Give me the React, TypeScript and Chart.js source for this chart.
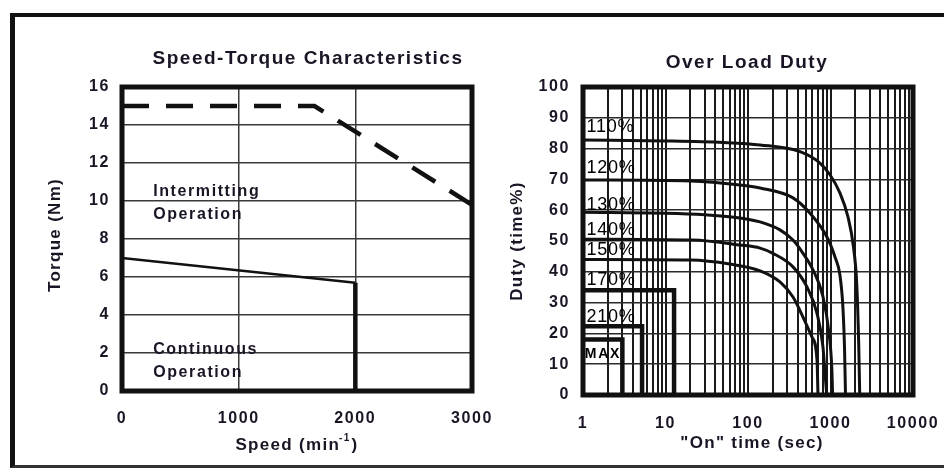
import React, { useEffect, useRef } from "react";
import { Chart, registerables } from "chart.js";

Chart.register(...registerables);

// ---------- Left chart data: Speed-Torque ----------
const LEFT_TITLE = "Speed-Torque Characteristics";
const SPEED_MIN = 0;
const SPEED_MAX = 3000;
const SPEED_STEP = 1000;
const TORQUE_MIN = 0;
const TORQUE_MAX = 16;
const TORQUE_STEP = 2;

const INT_SPEED = [0, 1650, 3000];
const INT_TORQUE = [15, 15, 9.8];
const CONT_SPEED = [0, 2000];
const CONT_TORQUE = [7, 5.7];
const LIMIT_SPEED = [2000, 2000];
const LIMIT_TORQUE = [5.7, 0];

const ZONE_TEXT = ["Intermitting", "Operation", "Continuous", "Operation"];
const ZONE_X = [267, 267, 267, 267];
const ZONE_Y = [10.47, 9.26, 2.16, 0.95];

// ---------- Right chart data: Over Load Duty ----------
const RIGHT_TITLE = "Over Load Duty";
const TIME_LABELS = [1, 10, 100, 1000, 10000];
const DUTY_MIN = 0;
const DUTY_MAX = 100;
const DUTY_STEP = 10;

const T110 = [1, 10, 50, 140, 427, 745, 985, 1300, 1630, 1900, 2080, 2200, 2260];
const D110 = [82.8, 82.5, 82, 81.2, 79, 75.3, 71.5, 65.6, 57.8, 48, 36, 16, 0];
const T120 = [1, 20, 80, 140, 351, 565, 906, 1134, 1300, 1410, 1480, 1520];
const D120 = [69.8, 69.5, 68.2, 67.2, 64, 59, 51.3, 44.8, 39, 29, 15, 0];
const T130 = [1, 10, 30, 80, 140, 244, 351, 464, 614, 810, 960, 1040, 1060];
const D130 = [59.3, 59, 58.5, 57.5, 56.2, 53.6, 50.3, 46, 40.6, 32, 20, 8, 0];
const T140 = [1, 21, 80, 140, 200, 351, 520, 685, 810, 870, 900];
const D140 = [50.6, 50.3, 48.7, 47.7, 46, 41.6, 35, 26.6, 15.6, 5, 0];
const T150 = [1, 20, 60, 140, 244, 351, 464, 597, 686, 705];
const D150 = [44, 43.8, 42.5, 40.3, 36.7, 31.8, 25.3, 18.8, 11.4, 0];
const T170 = [1, 12.7, 12.7];
const D170 = [34, 34, 0];
const T210 = [1, 5.2, 5.2];
const D210 = [22.3, 22.3, 0];
const TMAX = [1, 3.0, 3.0];
const DMAX = [18, 18, 0];

const CURVE_LABELS = ["110%", "120%", "130%", "140%", "150%", "170%", "210%", "MAX"];
const CURVE_LABEL_T = [1.1, 1.1, 1.1, 1.1, 1.1, 1.1, 1.1, 1.05];
const CURVE_LABEL_D = [87, 73.7, 61.8, 53.7, 47.1, 37.4, 25.3, 13.3];

const FONT = '"Liberation Sans", Arial, Helvetica, sans-serif';
const INK = "#1b1424";
const LINE = "#111111";

function pts(xs: number[], ys: number[]) {
  return xs.map((x, i) => ({ x, y: ys[i] }));
}

function logGrid(): number[] {
  const out: number[] = [];
  for (let e = 0; e < 4; e++) {
    for (let s = 1; s < 10; s++) out.push(s * Math.pow(10, e));
  }
  out.push(10000);
  return out;
}

function spacing(ctx: CanvasRenderingContext2D, px: number) {
  (ctx as any).letterSpacing = px + "px";
}

const leftDecor = {
  id: "leftDecor",
  beforeDraw(chart: any) {
    spacing(chart.ctx, 1.6);
  },
  afterDraw(chart: any) {
    const { ctx, chartArea: a, scales } = chart;
    ctx.save();
    ctx.lineWidth = 5;
    ctx.strokeStyle = LINE;
    ctx.strokeRect(a.left, a.top, a.right - a.left, a.bottom - a.top);

    ctx.fillStyle = INK;
    ctx.textBaseline = "middle";
    // title
    spacing(ctx, 1.5);
    ctx.font = `bold 19px ${FONT}`;
    ctx.textAlign = "center";
    ctx.fillText(LEFT_TITLE, (a.left + a.right) / 2 + 11, a.top - 28);

    // zone labels
    ctx.font = `bold 16px ${FONT}`;
    ctx.textAlign = "left";
    spacing(ctx, 1.6);
    for (let i = 0; i < ZONE_TEXT.length; i++) {
      ctx.fillText(
        ZONE_TEXT[i],
        scales.x.getPixelForValue(ZONE_X[i]),
        scales.y.getPixelForValue(ZONE_Y[i])
      );
    }

    // x axis title with superscript
    spacing(ctx, 1.3);
    const p1 = "Speed (min";
    const sup = "-1";
    const p2 = ")";
    ctx.font = `bold 17px ${FONT}`;
    const w1 = ctx.measureText(p1).width;
    const w2 = ctx.measureText(p2).width;
    ctx.font = `bold 10px ${FONT}`;
    const ws = ctx.measureText(sup).width;
    const total = w1 + ws + w2;
    const cx = (a.left + a.right) / 2;
    const ty = a.bottom + 54;
    let x = cx - total / 2;
    ctx.textAlign = "left";
    ctx.font = `bold 17px ${FONT}`;
    ctx.fillText(p1, x, ty);
    x += w1;
    ctx.font = `bold 10px ${FONT}`;
    ctx.fillText(sup, x - 1, ty - 7);
    x += ws;
    ctx.font = `bold 17px ${FONT}`;
    ctx.fillText(p2, x, ty);

    // y axis title
    ctx.translate(a.left - 67, (a.top + a.bottom) / 2 - 4);
    ctx.rotate(-Math.PI / 2);
    ctx.textAlign = "center";
    ctx.font = `bold 17px ${FONT}`;
    ctx.fillText("Torque (Nm)", 0, 0);
    ctx.restore();
  },
};

const rightDecor = {
  id: "rightDecor",
  beforeDraw(chart: any) {
    spacing(chart.ctx, 1.6);
  },
  afterDraw(chart: any) {
    const { ctx, chartArea: a, scales } = chart;
    ctx.save();
    ctx.lineWidth = 5;
    ctx.strokeStyle = LINE;
    ctx.strokeRect(a.left, a.top, a.right - a.left, a.bottom - a.top);

    ctx.fillStyle = INK;
    ctx.textBaseline = "middle";
    spacing(ctx, 1.5);
    ctx.font = `bold 19px ${FONT}`;
    ctx.textAlign = "center";
    ctx.fillText(RIGHT_TITLE, (a.left + a.right) / 2 - 1, a.top - 24);

    spacing(ctx, 1.3);
    ctx.font = `bold 17px ${FONT}`;
    ctx.fillText('"On" time (sec)', (a.left + a.right) / 2 + 4, a.bottom + 48);

    // curve labels
    ctx.textAlign = "left";
    ctx.fillStyle = "#000";
    for (let i = 0; i < CURVE_LABELS.length; i++) {
      const isMax = CURVE_LABELS[i] === "MAX";
      ctx.font = isMax ? `bold 14px ${FONT}` : `18px ${FONT}`;
      spacing(ctx, isMax ? 1.8 : 0.8);
      ctx.fillText(
        CURVE_LABELS[i],
        scales.x.getPixelForValue(CURVE_LABEL_T[i]),
        scales.y.getPixelForValue(CURVE_LABEL_D[i])
      );
    }

    ctx.fillStyle = INK;
    spacing(ctx, 1.3);
    ctx.translate(a.left - 66, (a.top + a.bottom) / 2);
    ctx.rotate(-Math.PI / 2);
    ctx.textAlign = "center";
    ctx.font = `bold 17px ${FONT}`;
    ctx.fillText("Duty (time%)", 0, 0);
    ctx.restore();
  },
};

function fixXPadding(s: any, h: number) {
  s.height = h;
  s.paddingLeft = 0;
  s.paddingRight = 0;
}

function leftConfig(): any {
  const tickFont = { family: FONT, size: 16, weight: "bold" as const };
  return {
    type: "line",
    data: {
      datasets: [
        {
          data: pts(INT_SPEED, INT_TORQUE),
          borderColor: LINE,
          borderWidth: 4.5,
          borderDash: [27, 17],
          pointRadius: 0,
          tension: 0,
          fill: false,
        },
        {
          data: pts(CONT_SPEED, CONT_TORQUE),
          borderColor: LINE,
          borderWidth: 2.5,
          pointRadius: 0,
          tension: 0,
          fill: false,
        },
        {
          data: pts(LIMIT_SPEED, LIMIT_TORQUE),
          borderColor: LINE,
          borderWidth: 4.5,
          pointRadius: 0,
          tension: 0,
          fill: false,
        },
      ],
    },
    options: {
      animation: false,
      responsive: false,
      maintainAspectRatio: false,
      events: [],
      layout: { padding: { left: 0, top: 87, right: 28, bottom: 0 } },
      plugins: { legend: { display: false }, tooltip: { enabled: false }, title: { display: false } },
      scales: {
        x: {
          type: "linear",
          min: SPEED_MIN,
          max: SPEED_MAX,
          border: { display: false },
          grid: { color: "#3a3a3a", lineWidth: 1.5, drawTicks: false },
          ticks: {
            stepSize: SPEED_STEP,
            color: INK,
            font: tickFont,
            padding: 18,
            maxRotation: 0,
            autoSkip: false,
            callback: (v: any) => String(v),
          },
          afterFit(s: any) {
            fixXPadding(s, 79);
          },
        },
        y: {
          type: "linear",
          min: TORQUE_MIN,
          max: TORQUE_MAX,
          border: { display: false },
          grid: { color: "#3a3a3a", lineWidth: 1.5, drawTicks: false },
          ticks: { stepSize: TORQUE_STEP, color: INK, font: tickFont, padding: 12 },
          afterFit(s: any) {
            s.width = 122;
          },
        },
      },
    },
    plugins: [leftDecor],
  };
}

function rightConfig(): any {
  const tickFont = { family: FONT, size: 16, weight: "bold" as const };
  const curve = (t: number[], d: number[]) => ({
    data: pts(t, d),
    borderColor: LINE,
    borderWidth: 3,
    pointRadius: 0,
    cubicInterpolationMode: "monotone",
    fill: false,
  });
  const step = (t: number[], d: number[]) => ({
    data: pts(t, d),
    borderColor: LINE,
    borderWidth: 4.5,
    pointRadius: 0,
    tension: 0,
    fill: false,
  });
  const grid = logGrid();
  return {
    type: "line",
    data: {
      datasets: [
        curve(T110, D110),
        curve(T120, D120),
        curve(T130, D130),
        curve(T140, D140),
        curve(T150, D150),
        step(T170, D170),
        step(T210, D210),
        step(TMAX, DMAX),
      ],
    },
    options: {
      animation: false,
      responsive: false,
      maintainAspectRatio: false,
      events: [],
      layout: { padding: { left: 0, top: 87, right: 31, bottom: 0 } },
      plugins: { legend: { display: false }, tooltip: { enabled: false }, title: { display: false } },
      scales: {
        x: {
          type: "logarithmic",
          min: 1,
          max: 10000,
          border: { display: false },
          grid: { color: "#1a1a1a", lineWidth: 2, drawTicks: false },
          afterBuildTicks(s: any) {
            s.ticks = grid.map((v) => ({ value: v }));
          },
          ticks: {
            color: INK,
            font: tickFont,
            padding: 19,
            maxRotation: 0,
            minRotation: 0,
            autoSkip: false,
            callback: (v: any) => (TIME_LABELS.includes(Number(v)) ? String(v) : ""),
          },
          afterFit(s: any) {
            fixXPadding(s, 75);
          },
        },
        y: {
          type: "linear",
          min: DUTY_MIN,
          max: DUTY_MAX,
          border: { display: false },
          grid: { color: "#2a2a2a", lineWidth: 1.6, drawTicks: false },
          ticks: { stepSize: DUTY_STEP, color: INK, font: tickFont, padding: 13 },
          afterFit(s: any) {
            s.width = 103;
          },
        },
      },
    },
    plugins: [rightDecor],
  };
}

export default function App() {
  const leftRef = useRef<HTMLCanvasElement>(null);
  const rightRef = useRef<HTMLCanvasElement>(null);

  useEffect(() => {
    const c1 = new Chart(leftRef.current as HTMLCanvasElement, leftConfig());
    const c2 = new Chart(rightRef.current as HTMLCanvasElement, rightConfig());
    return () => {
      c1.destroy();
      c2.destroy();
    };
  }, []);

  return (
    <div
      style={{
        position: "fixed",
        left: 0,
        top: 0,
        width: 944,
        height: 470,
        background: "#ffffff",
        overflow: "hidden",
      }}
    >
      <div
        style={{
          position: "absolute",
          left: 10,
          top: 13,
          width: 960,
          height: 455,
          boxSizing: "border-box",
          borderLeft: "5px solid #111",
          borderTop: "4px solid #111",
          borderBottom: "3px solid #333",
        }}
      />
      <canvas
        ref={leftRef}
        width={500}
        height={470}
        style={{ position: "absolute", left: 0, top: 0, width: 500, height: 470 }}
      />
      <canvas
        ref={rightRef}
        width={464}
        height={470}
        style={{ position: "absolute", left: 480, top: 0, width: 464, height: 470 }}
      />
    </div>
  );
}
